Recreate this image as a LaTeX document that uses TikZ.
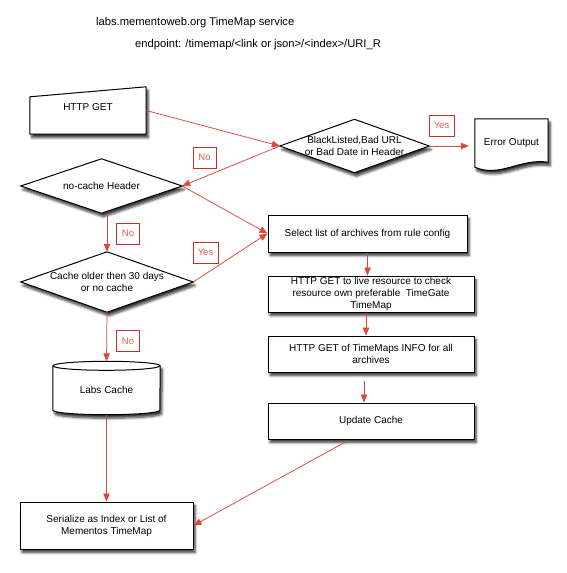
\documentclass[tikz,border=0pt]{standalone}
\usepackage{fontspec}
\setmainfont{Liberation Sans}
\usepackage{tikz}
\usetikzlibrary{arrows.meta,positioning,shadows.blur}
\definecolor{flowred}{RGB}{221,72,58}
\definecolor{lblred}{RGB}{200,45,40}
\definecolor{lbltext}{RGB}{228,95,80}
\pgfdeclarelayer{bg}
\pgfsetlayers{bg,main}

\begin{document}
\begin{tikzpicture}[x=1pt,y=-1pt,
    font=\fontsize{10}{12}\selectfont,
    shadowed/.style={blur shadow={shadow blur steps=6,shadow blur radius=2.5pt,shadow xshift=2pt,shadow yshift=-3.5pt,shadow opacity=80}},
    box/.style={rectangle,draw,fill=white,line width=1pt,align=center,inner sep=0pt,shadowed},
    plain/.style={rectangle,draw=none,align=center,inner sep=0pt},
    shape line/.style={draw,fill=white,line width=1pt,shadowed},
    flow/.style={draw=flowred,line width=0.75pt,-{Triangle[length=8pt,width=6.5pt]}},
    lbl/.style={rectangle,draw=lblred,fill=white,text=lbltext,line width=0.8pt,
        font=\fontsize{9.5}{10}\selectfont,minimum height=21pt,minimum width=23pt,inner sep=2pt}]
    \useasboundingbox (0,0) rectangle (567,573);

    % titles
    \node [anchor=base west,inner sep=0pt,font=\fontsize{11.2}{13}\selectfont] (title) at (96,25) {labs.mementoweb.org TimeMap service};
    \node [anchor=base west,inner sep=0pt,font=\fontsize{11.2}{13}\selectfont] (endpoint) at (135,47.5) {endpoint: /timemap/<link or json>/<index>/URI\_R};

    % left column
    \node [plain,minimum width=116pt,minimum height=47pt] (get) at (88,110.5) {};
    \node [plain,yshift=3.5pt] (gettext) at (get) {HTTP GET};
    \node [plain,minimum width=161pt,minimum height=54pt] (nocache) at (101.5,186) {no-cache Header};
    \node [plain,minimum width=172pt,minimum height=60pt] (cache) at (107,282) {Cache older then 30 days\\or no cache};
    \node [plain,minimum width=107pt,minimum height=53pt] (labs) at (106.5,388) {};
    \node [plain] (labstext) at ([yshift=-2pt]labs) {Labs Cache};
    \node [box,minimum width=173pt,minimum height=47pt] (serial) at (106.5,525.5) {Serialize as Index or List of\\Mementos TimeMap};

    % top right
    \node [plain,minimum width=149pt,minimum height=53pt] (check) at (354.5,146) {BlackListed,Bad URL\\or Bad Date in Header};
    \node [plain,minimum width=73pt,minimum height=49pt] (err) at (511.5,143.5) {Error Output};

    % right column
    \node [box,minimum width=199pt,minimum height=37pt] (select) at (367.5,233.5) {Select list of archives from rule config};
    \node [box,minimum width=206pt,minimum height=36pt] (live) at (371,294) {HTTP GET to live resource to check\\resource own preferable \ TimeGate\\TimeMap};
    \node [box,minimum width=206pt,minimum height=36pt] (info) at (371,354) {HTTP GET of TimeMaps INFO for all\\archives};
    \node [box,minimum width=206pt,minimum height=36pt] (update) at (371,421) {Update Cache};

    \begin{pgfonlayer}{bg}
        \draw [shape line] (get.south west) -- (get.south east) -- (get.north east) -- ([yshift=-10pt]get.north west) -- cycle;
        \draw [shape line] (nocache.north) -- (nocache.east) -- (nocache.south) -- (nocache.west) -- cycle;
        \draw [shape line] (cache.north) -- (cache.east) -- (cache.south) -- (cache.west) -- cycle;
        \draw [shape line] (check.north) -- (check.east) -- (check.south) -- (check.west) -- cycle;
        \draw [shape line] (err.north west) -- (err.north east) -- ([yshift=6pt]err.south east)
            .. controls (520,158) and (500,178) .. ([yshift=1pt]err.south west) -- cycle;
        \draw [shape line] ([yshift=-4.5pt]labs.north west) -- ([yshift=4.5pt]labs.south west)
            arc [start angle=180,end angle=360,x radius=53.5pt,y radius=4.5pt]
            -- ([yshift=-4.5pt]labs.north east)
            arc [start angle=0,end angle=180,x radius=53.5pt,y radius=4.5pt] -- cycle;
        \draw [line width=1pt] ([yshift=-4.5pt]labs.north west)
            arc [start angle=180,end angle=360,x radius=53.5pt,y radius=4.5pt];
    \end{pgfonlayer}

    % connectors
    \draw [flow] (get.east) -- (check.west);
    \draw [flow] (check.west) -- (nocache.east);
    \draw [flow] (check.east) -- (check.east -| err.west) [shorten >=6pt];
    \draw [flow] (nocache.east) -- (select.west);
    \draw [flow] (cache.north |- nocache.south) -- (cache.north);
    \draw [flow] (cache.east) -- (select.west);
    \draw [flow] (cache.south) -- (labs.north);
    \draw [flow] (labs.south) -- (serial.north);
    \draw [flow] (select.south) -- (select.south |- live.north);
    \draw [flow] ([xshift=-5pt]live.south) -- ([xshift=-5pt]live.south |- info.north);
    \draw [flow,shorten <=8pt] ([xshift=-7pt]info.south) -- ([xshift=-7pt]info.south |- update.north);
    \draw [flow,shorten <=3pt] ([xshift=-21pt]update.south) -- (serial.east);

    % labels
    \node [lbl] (no1) at (204.5,157.5) {No};
    \node [lbl,minimum width=25pt] (yes1) at (441.5,125.5) {Yes};
    \node [lbl] (no2) at (128,233.5) {No};
    \node [lbl,minimum width=25pt] (yes2) at (205.5,252.5) {Yes};
    \node [lbl] (no3) at (128,341) {No};
\end{tikzpicture}
\end{document}
